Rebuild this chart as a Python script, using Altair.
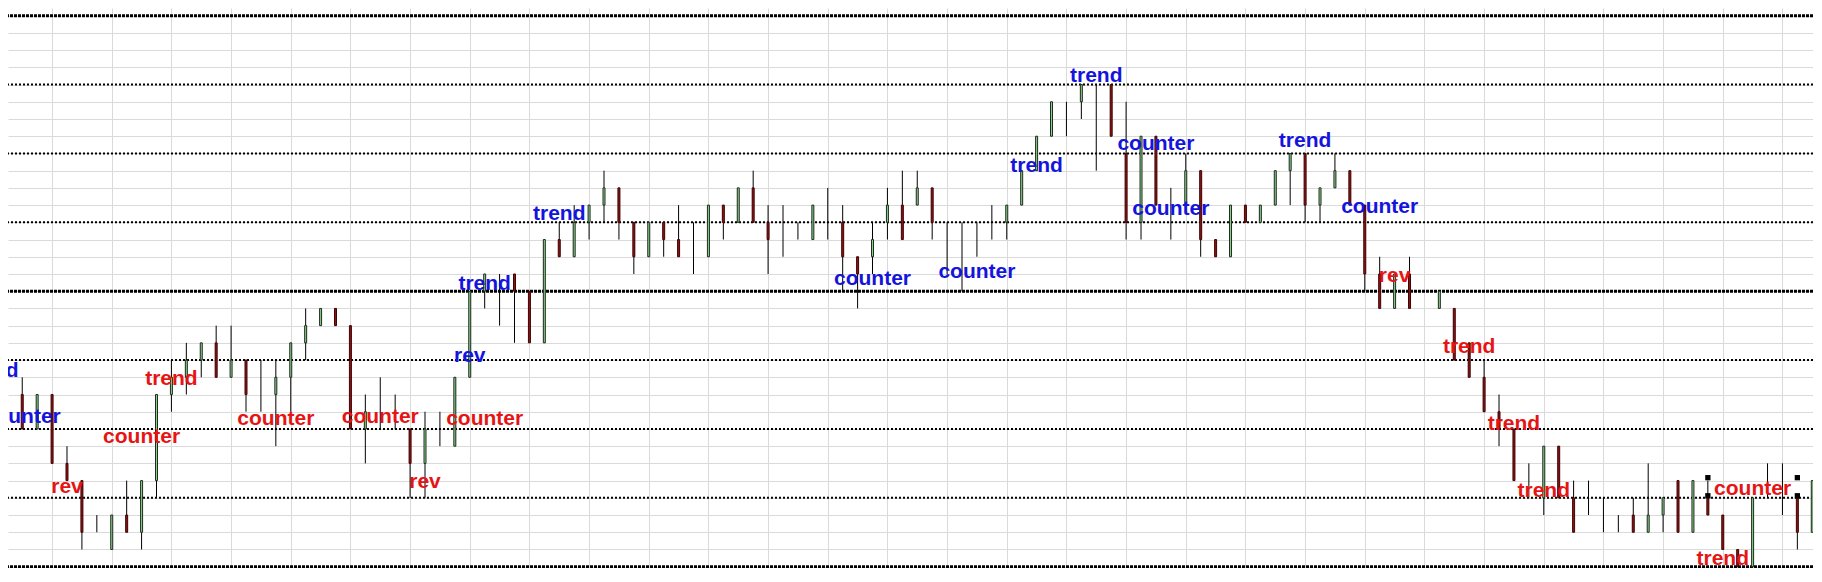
import altair as alt
import pandas as pd

# ---- bar data (levels on a 0..32 grid), bar index 0..121 ----
highs = [12, 11, 10, 10, 7, 5, 3, 3, 5, 5,
         10, 12, 13, 13, 14, 14, 12, 12, 12, 13,
         15, 15, 15, 14, 10, 11, 10, 8, 9, 9,
         11, 16, 17, 17, 17, 16, 19, 20, 21, 21,
         23, 22, 20, 20, 20, 21, 20, 21, 21, 22,
         23, 21, 21, 20, 21, 22, 21, 18, 20, 22,
         23, 23, 22, 20, 20, 20, 21, 21, 23, 25,
         27, 27, 28, 28, 28, 27, 25, 25, 22, 24,
         23, 19, 21, 21, 21, 23, 24, 24, 22, 24,
         23, 21, 18, 17, 18, None, 16, 15, 13, 12,
         10, 8, 6, 7, 7, 5, 5, 4, 3, 4,
         6, 4, 5, 5, 5, 3, 1, 4, 6, 6,
         4, 5]
lows = [10, 8, 8, 6, 5, 1, 2, 1, 2, 1,
        4, 9, 10, 11, 11, 11, 9, 9, 7, 9,
        12, 14, 14, 8, 6, 8, 8, 4, 4, 7,
        7, 11, 15, 14, 13, 13, 13, 18, 18, 19,
        20, 19, 17, 18, 18, 18, 17, 18, 19, 20,
        20, 17, 18, 19, 19, 19, 16, 15, 17, 19,
        19, 21, 19, 17, 16, 18, 19, 19, 21, 23,
        25, 25, 26, 23, 25, 19, 19, 21, 19, 21,
        18, 18, 18, 20, 20, 21, 21, 20, 20, 22,
        21, 16, 15, 15, 15, None, 15, 12, 11, 9,
        7, 5, 4, 3, 4, 2, 3, 2, 2, 2,
        2, 2, 2, 2, 3, 1, 0, 0, 4, 3,
        1, 2]
opens = [None, 10, 8, 10, 6, 5, None, 1, 3, 2,
         5, 10, 11, 12, 13, 11, 12, None, 10, 11,
         13, 14, 15, 14, 8, None, None, 8, 6, None,
         7, 11, 16, None, 17, 16, 13, 19, 18, 20,
         21, 22, 20, 18, 20, 19, None, 18, 21, 20,
         22, 20, None, None, 19, None, 20, 18, 18, 20,
         21, 21, 22, None, None, None, None, 20, 21, 23,
         25, None, 27, None, 28, 24, 20, 25, None, 21,
         23, 19, 18, 21, 20, 21, 23, 24, 21, 22,
         23, 21, 17, 15, 17, None, 15, 15, 13, 11,
         9, 8, None, 4, 7, 4, None, None, None, 3,
         2, 3, 5, 2, 4, 3, 1, 0, None, None,
         4, 2]
closes = [None, 8, 10, 6, 5, 2, None, 3, 2, 5,
          10, 11, 12, 13, 11, 12, 10, None, 11, 13,
          14, 15, 14, 8, 9, None, None, 6, 8, None,
          11, 16, 17, None, 16, 13, 19, 18, 20, 21,
          22, 20, 18, 20, 19, 18, None, 21, 20, 22,
          20, 19, None, None, 21, None, 18, 17, 19, 21,
          19, 22, 20, None, None, None, None, 21, 23, 25,
          27, None, 28, None, 25, 20, 25, 21, None, 23,
          19, 18, 21, 20, 21, 23, 24, 21, 22, 23,
          21, 17, 15, 17, 15, None, 16, 12, 11, 9,
          8, 5, None, 7, 4, 2, None, None, None, 2,
          3, 4, 2, 5, 3, 1, 0, 4, None, None,
          2, 5]

# ---- annotation labels ----
label_text = ["trend", "counter", "rev", "trend", "trend", "counter", "counter",
              "trend", "trend", "counter", "counter", "trend", "counter",
              "trend", "counter", "rev", "counter", "counter", "rev", "counter",
              "rev", "trend", "trend", "trend", "counter", "trend"]
label_bar = [-1, 1, 31, 32, 37, 58, 65, 69, 73, 77, 78, 87, 92,
             11, 9, 4, 18, 25, 28, 32, 93, 98, 101, 103, 117, 115]
label_level = [11.0, 8.33, 11.9, 16.07, 20.13, 16.36, 16.75, 22.94, 28.17, 24.2,
               20.42, 24.39, 20.52,
               10.55, 7.17, 4.3, 8.23, 8.33, 4.55, 8.23, 16.55, 12.39, 7.94,
               4.06, 4.16, 0.1]
label_side = ["up"] * 13 + ["down"] * 13

# ---- small square markers ----
marker_bar = [114, 114, 120, 120]
marker_level = [5.17, 4.12, 5.17, 4.12]

# ---- reference levels ----
dotted_levels = [4, 8, 12, 20, 24, 28]
heavy_levels = [0, 16, 32]
grid_x = list(range(3, 122, 4))
grid_y = list(range(0, 33))

bars = pd.DataFrame({"k": list(range(len(highs))), "high": highs, "low": lows,
                     "open": opens, "close": closes}).dropna(subset=["high"])
labels = pd.DataFrame({"text": label_text, "k": label_bar, "lvl": label_level,
                       "side": label_side})
markers = pd.DataFrame({"k": marker_bar, "lvl": marker_level})
dotted = pd.DataFrame({"lvl": dotted_levels})
heavy = pd.DataFrame({"lvl": heavy_levels})

W, H = 1805, 560
xs = alt.Scale(domain=[0.38, 0.38 + W / 15.0], nice=False, zero=False)
ys = alt.Scale(domain=[-0.0755, -0.0755 + H / 17.219], nice=False, zero=False)
xaxis = alt.Axis(values=grid_x, grid=True, labels=False, ticks=False, domain=False,
                 title=None, gridColor="#dadada", gridWidth=1)
yaxis = alt.Axis(values=grid_y, grid=True, labels=False, ticks=False, domain=False,
                 title=None, gridColor="#dadada", gridWidth=1)


def X(f):
    return alt.X(f, type="quantitative", scale=xs, axis=xaxis)


def Y(f):
    return alt.Y(f, type="quantitative", scale=ys, axis=yaxis)


dot_layer = alt.Chart(dotted).mark_rule(color="black", strokeWidth=2,
                                        strokeDash=[2, 2]).encode(y=Y("lvl"))
heavy_layer = alt.Chart(heavy).mark_rule(color="black", strokeWidth=3,
                                         strokeDash=[3, 1]).encode(y=Y("lvl"))
wicks = alt.Chart(bars).mark_rule(color="black", strokeWidth=1).encode(
    x=X("k"), y=Y("low"), y2="high")
up = "datum.close > datum.open"
bodies = alt.Chart(bars).transform_filter(
    "isValid(datum.open) && datum.open != datum.close"
).mark_bar(size=2, strokeWidth=1).encode(
    x=X("k"), y=Y("open"), y2="close",
    fill=alt.condition(up, alt.value("#8fd08f"), alt.value("#8b1414")),
    stroke=alt.condition(up, alt.value("#1e2e1e"), alt.value("#400404")),
)
marks = alt.Chart(markers).mark_square(size=28, color="black", opacity=1).encode(
    x=X("k"), y=Y("lvl"))
texts = alt.Chart(labels).mark_text(font="Liberation Sans", fontSize=21,
                                    fontWeight="bold", align="center",
                                    baseline="alphabetic").encode(
    x=X("k"), y=Y("lvl"), text="text:N",
    color=alt.Color("side:N", scale=alt.Scale(domain=["up", "down"],
                                              range=["#1414dc", "#e61414"]),
                    legend=None),
)

chart = alt.layer(dot_layer, heavy_layer, wicks, bodies, marks, texts).properties(
    width=W, height=H, padding=0, autosize=alt.AutoSizeParams(type="none"),
    background="white"
).configure_view(stroke=None)

chart.save("out.html", embed_options={"renderer": "svg", "actions": False})
